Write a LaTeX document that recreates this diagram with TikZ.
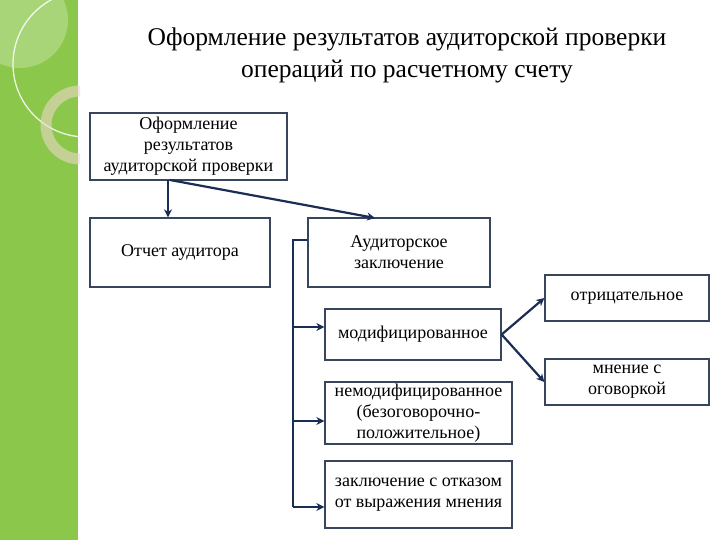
\documentclass[tikz,border=0pt]{standalone}
\usepackage{fontspec}
\setmainfont{Liberation Serif}
\usetikzlibrary{arrows.meta}
\definecolor{grn}{RGB}{139,199,74}
\definecolor{bord}{RGB}{55,70,90}
\definecolor{arr}{RGB}{25,45,85}
\begin{document}
\begin{tikzpicture}[x=1pt,y=-1pt,
  box/.style={draw=bord,line width=1.3pt,fill=white,align=center,inner sep=0pt,font=\fontsize{18}{21}\selectfont},
  con/.style={draw=arr,line width=2.2pt,-{Stealth[length=8pt,width=8pt]}},
  ln/.style={draw=arr,line width=2.2pt}]
\useasboundingbox (0,0) rectangle (720,540);
\fill[white] (0,0) rectangle (720,540);
\fill[grn] (0,0) rectangle (78,540);
\begin{scope}
\clip (0,0) rectangle (80,540);
\fill[white,opacity=0.25] (20,20) circle (48);
\draw[white,opacity=0.85,line width=1.3pt] (86,64) circle (73);
\draw[white!70!brown,opacity=0.6,line width=11pt] (80,125) circle (34);
\end{scope}
\node[font=\fontsize{25.5}{32}\selectfont,align=center] (title) at (407,55) {Оформление результатов аудиторской проверки\\операций по расчетному счету};
\node[box,minimum width=197,minimum height=67] (top) at (188.5,146.5) {Оформление\\результатов\\аудиторской проверки};
\node[box,minimum width=180,minimum height=69] (rep) at (180,252.5) {Отчет аудитора};
\node[box,minimum width=182,minimum height=69] (concl) at (399,252.5) {Аудиторское\\заключение};
\node[box,minimum width=164,minimum height=46] (neg) at (627,298) {отрицательное};
\node[box,minimum width=176,minimum height=51] (mod) at (413,334.5) {модифицированное};
\node[box,minimum width=164,minimum height=46] (res) at (627,382) {мнение с\\оговоркой};
\node[box,minimum width=187,minimum height=62] (unmod) at (418.5,413) {немодифицированное\\(безоговорочно-\\положительное)};
\node[box,minimum width=187,minimum height=67] (refuse) at (418.5,494.5) {заключение с отказом\\от выражения мнения};
\coordinate (vt) at (293,240);
\coordinate (vb) at (293,507);
\draw[ln] (concl.west |- vt) -- (vt) -- (vb);
\draw[con] (168,180) -- (rep.north -| 168,0);
\draw[con] (170,180) -- (375,218);
\draw[con] (293,327) -- (mod.west |- 0,327);
\draw[con] (293,421) -- (unmod.west |- 0,421);
\draw[con] (vb) -- (refuse.west |- vb);
\draw[con] (mod.east) -- (neg.west);
\draw[con] (mod.east) -- (res.west);
\end{tikzpicture}
\end{document}
